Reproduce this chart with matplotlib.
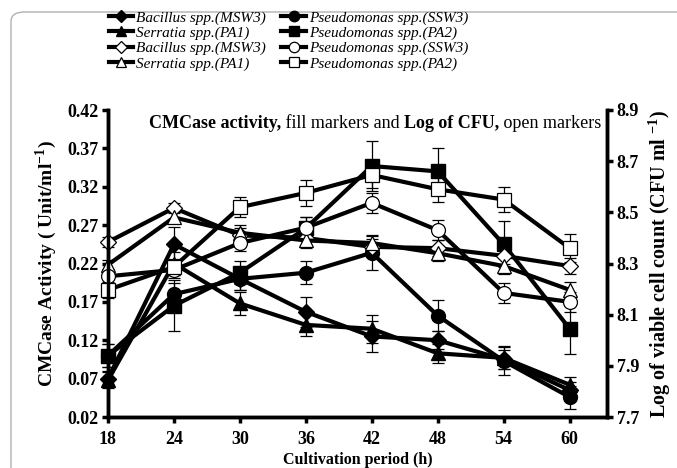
import numpy as np
import matplotlib
matplotlib.use("Agg")
import matplotlib.pyplot as plt
from matplotlib.lines import Line2D
from matplotlib.patches import FancyBboxPatch

plt.rcParams['font.family'] = ['Liberation Serif', 'DejaVu Serif']
plt.rcParams['mathtext.fontset'] = 'custom'
plt.rcParams['mathtext.rm'] = 'Liberation Serif'
plt.rcParams['mathtext.bf'] = 'Liberation Serif:bold'

# Cultivation period (h)
hours = [18, 24, 30, 36, 42, 48, 54, 60]

# CMCase activity (Unit/ml) - filled markers, left axis
cmc_bacillus = [0.070, 0.245, 0.200, 0.157, 0.125, 0.120, 0.095, 0.055]
cmc_serratia = [0.068, 0.220, 0.168, 0.140, 0.135, 0.103, 0.097, 0.062]
cmc_ssw3 = [0.100, 0.180, 0.200, 0.208, 0.234, 0.152, 0.093, 0.046]
cmc_pa2 = [0.100, 0.165, 0.208, 0.266, 0.347, 0.340, 0.245, 0.135]

cmc_bacillus_err = [0.010, 0.022, 0.015, 0.020, 0.020, 0.012, 0.012, 0.010]
cmc_serratia_err = [0.010, 0.015, 0.015, 0.015, 0.018, 0.012, 0.015, 0.010]
cmc_ssw3_err = [0.015, 0.015, 0.015, 0.015, 0.022, 0.020, 0.018, 0.015]
cmc_pa2_err = [0.015, 0.033, 0.015, 0.015, 0.033, 0.030, 0.030, 0.033]

# Log of CFU - open markers, right axis
cfu_bacillus = [8.384, 8.517, 8.410, 8.400, 8.365, 8.360, 8.330, 8.290]
cfu_serratia = [8.295, 8.480, 8.420, 8.390, 8.380, 8.340, 8.290, 8.197]
cfu_ssw3 = [8.250, 8.275, 8.380, 8.440, 8.537, 8.430, 8.185, 8.150]
cfu_pa2 = [8.197, 8.287, 8.520, 8.576, 8.646, 8.590, 8.550, 8.360]

cfu_bacillus_err = [0.020, 0.020, 0.030, 0.030, 0.030, 0.030, 0.030, 0.030]
cfu_serratia_err = [0.020, 0.020, 0.030, 0.030, 0.030, 0.030, 0.030, 0.030]
cfu_ssw3_err = [0.030, 0.030, 0.030, 0.040, 0.040, 0.040, 0.040, 0.040]
cfu_pa2_err = [0.030, 0.030, 0.040, 0.050, 0.050, 0.050, 0.050, 0.055]

names = ["Bacillus spp.(MSW3)", "Serratia spp.(PA1)",
         "Pseudomonas spp.(SSW3)", "Pseudomonas spp.(PA2)"]
markers = ["D", "^", "o", "s"]
msizes = [8, 10, 10, 10]

fig = plt.figure(figsize=(6.77, 4.68), dpi=100)
ax = fig.add_axes([108/677, 1 - 417/468, (607-108)/677, (417-110)/468])
ax2 = ax.twinx()

# rounded frame around figure
box = FancyBboxPatch((11/677, -0.2), 1.2, 1.2 - 12/468,
                     boxstyle="round,pad=0,rounding_size=0.02",
                     transform=fig.transFigure, fill=False,
                     edgecolor="#b0b0b0", linewidth=1.0, zorder=-10)
fig.patches.append(box)

filled = [cmc_bacillus, cmc_serratia, cmc_ssw3, cmc_pa2]
filled_err = [cmc_bacillus_err, cmc_serratia_err, cmc_ssw3_err, cmc_pa2_err]
opened = [cfu_bacillus, cfu_serratia, cfu_ssw3, cfu_pa2]
opened_err = [cfu_bacillus_err, cfu_serratia_err, cfu_ssw3_err, cfu_pa2_err]

handles_f = []
handles_o = []
for i in range(4):
    ax.errorbar(hours, filled[i], yerr=filled_err[i], color="black", lw=3,
                marker=markers[i], ms=msizes[i], mfc="black", mec="black",
                elinewidth=0.9, capsize=4, capthick=0.9, clip_on=False)
    ax2.errorbar(hours, opened[i], yerr=opened_err[i], color="black", lw=3,
                 marker=markers[i], ms=msizes[i], mfc="white", mec="black",
                 mew=0.9, elinewidth=0.9, capsize=4, capthick=0.9, clip_on=False)
    handles_f.append(Line2D([], [], color="black", lw=3, marker=markers[i],
                            ms=msizes[i] * 0.75, mfc="black", mec="black"))
    handles_o.append(Line2D([], [], color="black", lw=3, marker=markers[i],
                            ms=msizes[i] * 0.75, mfc="white", mec="black", mew=0.9))

ax.set_xlim(18, 63.4)
ax.set_ylim(0.02, 0.42)
ax2.set_ylim(7.7, 8.9)
ax.set_xticks(hours)
ax.set_yticks([0.02, 0.07, 0.12, 0.17, 0.22, 0.27, 0.32, 0.37, 0.42])
ax2.set_yticks([7.7, 7.9, 8.1, 8.3, 8.5, 8.7, 8.9])

for a in (ax, ax2):
    a.spines["top"].set_visible(False)
    for s in ("left", "right", "bottom"):
        a.spines[s].set_linewidth(2.5)
    a.tick_params(width=2.5, length=4, labelsize=13, direction="out", pad=3)
    for lbl in a.get_xticklabels() + a.get_yticklabels():
        lbl.set_fontweight("bold")
ax.tick_params(axis="x", pad=6)

ax.set_xlabel("Cultivation period (h)", fontsize=11.5, fontweight="bold", labelpad=3)
ax.set_ylabel("CMCase Activity ( Unit/ml$^{\\mathbf{-1}}$)", fontsize=14,
              fontweight="bold", labelpad=6)
ax2.set_ylabel("Log of viable cell count (CFU ml $^{\\mathbf{-1}}$)", fontsize=14.5,
               fontweight="bold", labelpad=5)

# inner title with mixed weights
parts = [("CMCase activity,", "bold"), (" fill markers and ", "normal"),
         ("Log of CFU,", "bold"), (" open markers", "normal")]
fig.canvas.draw()
renderer = fig.canvas.get_renderer()
widths = []
for txt, w in parts:
    t = fig.text(0, 0, txt, fontsize=13, fontweight=w)
    widths.append(t.get_window_extent(renderer).width)
    t.remove()
x0 = 375 - sum(widths) / 2
for (txt, w), wd in zip(parts, widths):
    fig.text(x0 / 677, 1 - 123 / 468, txt, fontsize=13, fontweight=w,
             va="center", ha="left")
    x0 += wd

leg_handles = [handles_f[0], handles_f[1], handles_o[0], handles_o[1],
               handles_f[2], handles_f[3], handles_o[2], handles_o[3]]
leg_labels = [names[0], names[1], names[0], names[1],
              names[2], names[3], names[2], names[3]]
fig.legend(leg_handles, leg_labels, ncol=2, loc="upper left",
           bbox_to_anchor=(98/677, 1.0), frameon=False,
           prop={"style": "italic", "size": 11}, handlelength=1.6,
           handletextpad=0.2, labelspacing=0.1, columnspacing=1.0,
           borderpad=0.2)

fig.savefig("out.png", dpi=100)
